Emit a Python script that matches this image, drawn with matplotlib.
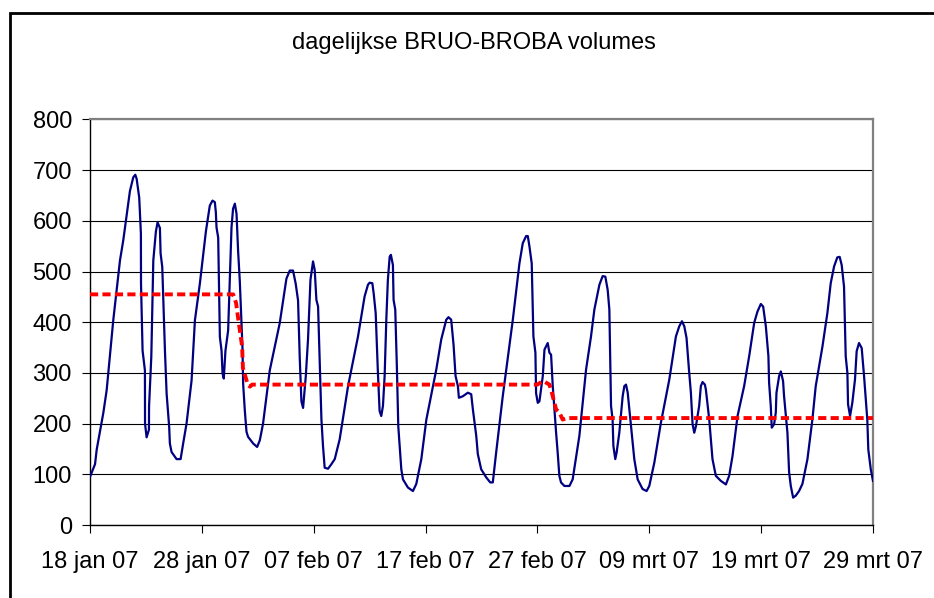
import matplotlib
matplotlib.use('Agg')
import matplotlib.pyplot as plt
from matplotlib.patches import Rectangle
import numpy as np

plt.rcParams['font.family'] = ['Liberation Sans', 'DejaVu Sans']

# daily volumes, (days after 18 jan 07, volume)
volume_pts = [
    (0.00, 95), (0.45, 120), (0.60, 149), (1.19, 221), (1.49, 266), (2.08, 404),
    (2.68, 522), (2.97, 561), (3.57, 659), (3.87, 686), (4.05, 691), (4.17, 683),
    (4.40, 646), (4.55, 575), (4.56, 476), (4.70, 344), (4.91, 305), (4.92, 200),
    (5.06, 173), (5.27, 188), (5.28, 234), (5.48, 332), (5.66, 522), (5.89, 579),
    (6.04, 597), (6.25, 586), (6.31, 536), (6.46, 509), (6.70, 344), (6.85, 259),
    (7.08, 193), (7.14, 161), (7.29, 144), (7.74, 130), (8.10, 130), (8.33, 161),
    (8.63, 200), (9.08, 285), (9.38, 404), (9.82, 476), (10.36, 579), (10.71, 630),
    (10.95, 640), (11.16, 637), (11.25, 617), (11.31, 587), (11.46, 567), (11.61, 371),
    (11.76, 344), (11.85, 299), (11.96, 289), (12.11, 344), (12.35, 384), (12.65, 587),
    (12.79, 624), (12.95, 634), (13.10, 614), (13.24, 541), (13.39, 482), (13.63, 351),
    (13.69, 279), (13.84, 226), (13.99, 184), (14.13, 174), (14.58, 161), (14.94, 154),
    (15.18, 167), (15.47, 200), (16.07, 305), (16.96, 398), (17.56, 486), (17.86, 502),
    (18.15, 502), (18.39, 476), (18.60, 443), (18.75, 330), (18.90, 244), (19.05, 231),
    (19.29, 293), (19.49, 366), (19.71, 484), (19.94, 520), (20.09, 503), (20.24, 444),
    (20.39, 431), (20.69, 208), (20.83, 156), (20.98, 113), (21.28, 111), (21.58, 120),
    (21.88, 130), (22.32, 169), (23.07, 274), (23.96, 372), (24.55, 451), (24.85, 474),
    (25.00, 478), (25.24, 477), (25.36, 457), (25.54, 418), (25.74, 300), (25.89, 225),
    (26.04, 215), (26.19, 235), (26.34, 294), (26.49, 405), (26.63, 484), (26.79, 529),
    (26.90, 533), (27.08, 513), (27.14, 444), (27.29, 425), (27.44, 307), (27.56, 195),
    (27.68, 156), (27.83, 110), (27.98, 90), (28.42, 74), (28.87, 67), (29.17, 81),
    (29.62, 130), (30.07, 208), (30.96, 307), (31.40, 366), (31.85, 405), (32.05, 410),
    (32.29, 405), (32.50, 356), (32.68, 294), (32.89, 274), (32.98, 251), (33.33, 254),
    (33.78, 261), (34.08, 258), (34.23, 228), (34.53, 176), (34.67, 140), (34.97, 110),
    (35.42, 94), (35.78, 84), (36.01, 84), (36.31, 143), (36.90, 254), (37.80, 405),
    (38.39, 516), (38.69, 556), (38.99, 570), (39.14, 570), (39.29, 549), (39.49, 516),
    (39.64, 372), (39.82, 340), (39.88, 260), (40.03, 241), (40.18, 244), (40.48, 294),
    (40.63, 346), (40.92, 359), (41.07, 340), (41.22, 336), (41.37, 274), (41.67, 182),
    (41.81, 143), (41.96, 97), (42.11, 84), (42.41, 77), (42.86, 77), (43.15, 90),
    (43.75, 176), (44.35, 307), (44.79, 372), (45.09, 425), (45.54, 474), (45.83, 491),
    (46.07, 490), (46.28, 464), (46.43, 425), (46.58, 235), (46.72, 208), (46.79, 156),
    (46.96, 130), (47.08, 143), (47.32, 182), (47.62, 254), (47.77, 274), (47.92, 277),
    (48.07, 261), (48.37, 195), (48.66, 130), (48.96, 90), (49.40, 71), (49.76, 67),
    (50.00, 77), (50.45, 123), (51.04, 202), (51.79, 287), (52.38, 372), (52.68, 392),
    (52.92, 402), (53.13, 392), (53.33, 369), (53.57, 300), (53.72, 261), (53.87, 199),
    (54.02, 182), (54.17, 195), (54.46, 235), (54.61, 274), (54.76, 282), (54.97, 277),
    (55.06, 267), (55.36, 208), (55.65, 130), (55.95, 97), (56.40, 87), (56.85, 80),
    (57.14, 97), (57.44, 136), (57.89, 215), (58.48, 274), (58.93, 333), (59.38, 399),
    (59.67, 421), (59.97, 436), (60.18, 431), (60.42, 392), (60.65, 333), (60.71, 281),
    (60.86, 235), (60.95, 192), (61.16, 199), (61.31, 222), (61.37, 261), (61.61, 294),
    (61.76, 303), (61.96, 284), (62.05, 254), (62.35, 182), (62.50, 104), (62.65, 77),
    (62.86, 54), (63.10, 58), (63.39, 67), (63.69, 81), (64.14, 130), (64.58, 208),
    (64.88, 274), (65.48, 352), (65.92, 418), (66.22, 477), (66.52, 510), (66.81, 528),
    (67.02, 529), (67.20, 513), (67.41, 470), (67.50, 392), (67.56, 333), (67.71, 300),
    (67.77, 238), (67.95, 215), (68.15, 241), (68.39, 287), (68.54, 343), (68.75, 359),
    (68.99, 349), (69.20, 294), (69.49, 208), (69.58, 149), (69.80, 110), (70.00, 87),
]

# average level (red dashed)
average_pts = [
    (0.00, 455), (12.80, 455), (13.06, 438), (13.30, 399), (13.60, 352), (13.67, 310),
    (14.10, 277), (14.30, 273), (14.50, 277), (40.00, 277), (40.40, 283), (40.60, 283),
    (41.07, 277), (41.22, 267), (41.67, 228), (41.96, 222), (42.26, 208), (42.60, 211),
    (70.00, 211),
]

tick_days = [0, 10, 20, 30, 40, 50, 60, 70]
tick_labels = ['18 jan 07', '28 jan 07', '07 feb 07', '17 feb 07',
               '27 feb 07', '09 mrt 07', '19 mrt 07', '29 mrt 07']
y_ticks = [0, 100, 200, 300, 400, 500, 600, 700, 800]

days, vols = zip(*volume_pts)
avg_days, avg_vals = zip(*average_pts)

W, H = 934, 598
fig = plt.figure(figsize=(W / 100, H / 100), dpi=100)
ax = fig.add_axes([90 / W, 1 - 525 / H, (873 - 90) / W, (525 - 119.5) / H])

ax.plot(days, vols, color='#000080', lw=1.6, zorder=3)
ax.plot(avg_days, avg_vals, color='#ff0000', lw=2.8, dashes=(2.1, 1.1), zorder=4)

ax.set_xlim(0, 70)
ax.set_ylim(0, 800)
ax.set_xticks(tick_days)
ax.set_xticklabels(tick_labels)
ax.set_yticks(y_ticks)

ax.yaxis.grid(True, color='black', lw=0.8)
ax.set_axisbelow(True)

for s in ['left', 'bottom']:
    ax.spines[s].set_color('black')
    ax.spines[s].set_linewidth(1.0)
for s in ['top', 'right']:
    ax.spines[s].set_color('#808080')
    ax.spines[s].set_linewidth(1.6)

ax.tick_params(axis='y', direction='out', length=5.5, width=0.8, pad=7.5, labelsize=17)
ax.tick_params(axis='x', direction='out', length=5.8, width=0.8, pad=13, labelsize=17)

fig.text(474 / W, 1 - 43 / H, 'dagelijkse BRUO-BROBA volumes', ha='center', va='center',
         fontsize=17)

# chart frame
fig.add_artist(Rectangle((10 / W, -0.1), 1.2, 1.1 - 13 / H, transform=fig.transFigure,
                         fill=False, edgecolor='black', lw=2))

fig.savefig('out.png', dpi=100)
